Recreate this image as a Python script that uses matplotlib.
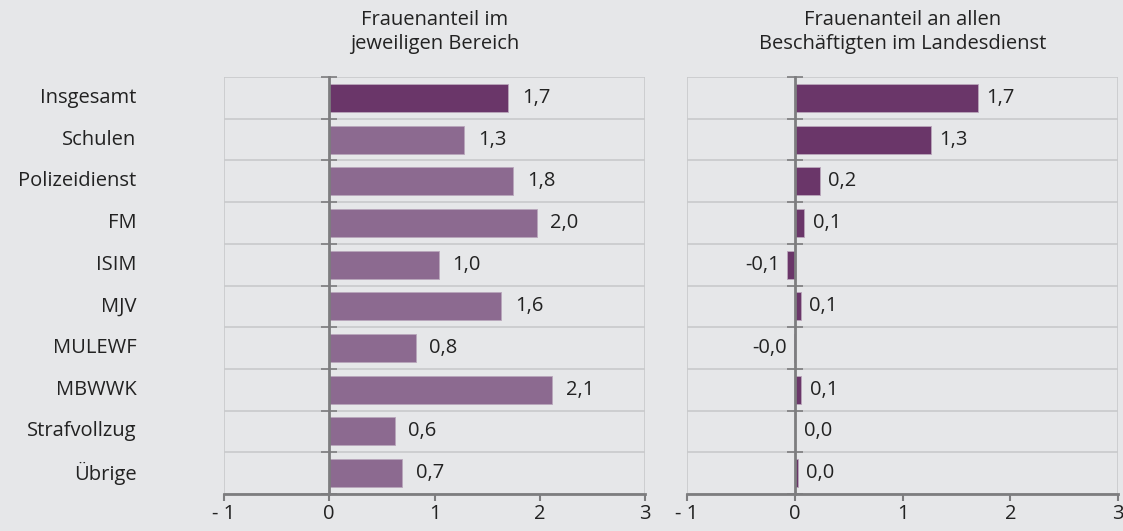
import numpy as np
import matplotlib.pyplot as plt
from matplotlib.transforms import blended_transform_factory

plt.rcParams['font.family'] = ['Open Sans', 'DejaVu Sans']

# data
categories = ["Insgesamt", "Schulen", "Polizeidienst", "FM", "ISIM", "MJV",
              "MULEWF", "MBWWK", "Strafvollzug", "Übrige"]
anteil_bereich = [1.70, 1.28, 1.75, 1.97, 1.04, 1.63, 0.82, 2.12, 0.62, 0.69]
anteil_gesamt = [1.70, 1.26, 0.23, 0.09, -0.07, 0.055, -0.01, 0.06, 0.005, 0.03]
titles = ["Frauenanteil im\njeweiligen Bereich",
          "Frauenanteil an allen\nBeschäftigten im Landesdienst"]
xtick_labels = ["- 1", "0", "1", "2", "3"]

dark = "#6a3669"
light = "#8c6a90"
bg = "#e6e7e9"
grid = "#c9cacc"
axis_grey = "#7d7d7f"
fs = 14.5

fig = plt.figure(figsize=(11.23, 5.31), dpi=100, facecolor=bg)
ax1 = fig.add_axes([224/1123, 37/531, 421/1123, 417/531])
ax2 = fig.add_axes([687/1123, 37/531, 431/1123, 417/531])

y = np.arange(len(categories))

def draw(ax, vals, colors, title, off):
    ax.set_facecolor(bg)
    ax.barh(y, vals, height=0.67, color=colors, edgecolor="#b9a6bb", linewidth=0.6, zorder=3)
    ax.set_xlim(-1, 3)
    ax.set_ylim(len(categories) - 0.5, -0.5)
    # gridlines between categories
    for b in np.arange(-0.5, len(categories), 1.0):
        ax.axhline(b, color=grid, lw=1.2, zorder=1)
    ax.axvline(-1, color=grid, lw=1.2, zorder=1)
    ax.axvline(3, color=grid, lw=1.2, zorder=1)
    for s in ["top", "right"]:
        ax.spines[s].set_visible(False)
    ax.spines["left"].set_position(("data", 0))
    ax.spines["left"].set_color(axis_grey)
    ax.spines["left"].set_linewidth(2)
    ax.spines["left"].set_zorder(4)
    ax.spines["bottom"].set_color(axis_grey)
    ax.spines["bottom"].set_linewidth(2)
    ax.set_yticks(np.arange(-0.5, len(categories), 1.0))
    ax.set_yticklabels([])
    ax.tick_params(axis="y", direction="inout", length=11, width=1.2, color=axis_grey)
    ax.set_xticks([-1, 0, 1, 2, 3])
    ax.set_xticklabels(xtick_labels, fontsize=fs, color="#222222")
    ax.tick_params(axis="x", direction="out", length=5, width=1.5, color=axis_grey, pad=2)
    for i, v in enumerate(vals):
        txt = f"{v:.1f}".replace(".", ",")
        if v < 0:
            ax.annotate(txt, (v, i), xytext=(-5, 0), textcoords="offset points",
                        ha="right", va="center", fontsize=fs, color="#222222")
        else:
            ax.annotate(txt, (v, i), xytext=(off, 0), textcoords="offset points",
                        ha="left", va="center", fontsize=fs, color="#222222")
    ax.set_title(title, fontsize=fs, color="#222222", pad=20, linespacing=1.3)

draw(ax1, anteil_bereich, [dark] + [light] * (len(categories) - 1), titles[0], 10)
draw(ax2, anteil_gesamt, [dark] * len(categories), titles[1], 6)

trans = blended_transform_factory(ax1.transAxes, ax1.transData)
for i, c in enumerate(categories):
    ax1.text(-0.208, i, c, transform=trans, ha="right", va="center",
             fontsize=fs, color="#222222")

fig.savefig("out.png", dpi=100, facecolor=bg)
